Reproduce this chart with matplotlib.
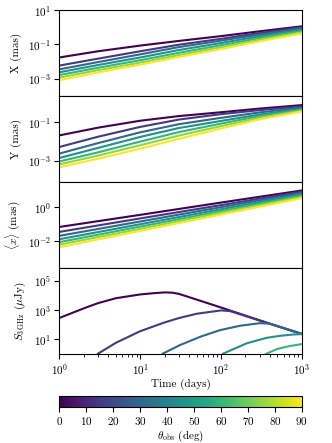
import numpy as np
import matplotlib
matplotlib.use('Agg')
from matplotlib import pyplot as plt
from matplotlib.ticker import LogLocator, NullLocator, LogFormatterSciNotation

plt.rcParams['font.family'] = 'serif'
plt.rcParams['font.serif'] = ['cmr10', 'DejaVu Serif']
plt.rcParams['mathtext.fontset'] = 'cm'
plt.rcParams['axes.formatter.use_mathtext'] = True
plt.rcParams['axes.unicode_minus'] = False
plt.rcParams['font.size'] = 8
plt.rcParams['xtick.major.pad'] = 2.5
plt.rcParams['ytick.major.pad'] = 2.5

# viewing angles (deg)
thetas = [0, 15, 30, 45, 60, 75, 90]

# times for the centroid panels (days)
t_xy = [1, 3, 10, 30, 100, 300, 1000]

# log10 X (mas)
x_log = [
    [-1.76, -1.40, -1.07, -0.80, -0.52, -0.24, 0.05],
    [-2.23, -1.83, -1.40, -1.02, -0.68, -0.34, 0.00],
    [-2.45, -2.03, -1.58, -1.16, -0.78, -0.43, -0.07],
    [-2.62, -2.20, -1.76, -1.33, -0.92, -0.53, -0.14],
    [-2.78, -2.36, -1.92, -1.49, -1.05, -0.63, -0.22],
    [-2.93, -2.50, -2.06, -1.62, -1.17, -0.73, -0.30],
    [-3.08, -2.63, -2.18, -1.73, -1.27, -0.82, -0.37],
]

# log10 Y (mas)
y_log = [
    [-1.68, -1.28, -0.92, -0.68, -0.48, -0.29, -0.11],
    [-2.28, -1.75, -1.24, -0.86, -0.58, -0.37, -0.18],
    [-2.62, -2.08, -1.52, -1.10, -0.77, -0.49, -0.24],
    [-2.85, -2.33, -1.76, -1.30, -0.93, -0.60, -0.30],
    [-3.03, -2.56, -2.00, -1.51, -1.07, -0.68, -0.35],
    [-3.18, -2.73, -2.19, -1.69, -1.20, -0.77, -0.40],
    [-3.33, -2.89, -2.37, -1.86, -1.32, -0.85, -0.44],
]

# log10 <x> (mas)
t_mean = [1, 10, 100, 1000]
xmean_log = [
    [-1.16, -0.45, 0.27, 0.98],
    [-1.45, -0.66, 0.12, 0.91],
    [-1.68, -0.84, 0.00, 0.84],
    [-1.88, -1.00, -0.12, 0.76],
    [-2.05, -1.14, -0.23, 0.68],
    [-2.20, -1.27, -0.33, 0.60],
    [-2.35, -1.39, -0.43, 0.53],
]

# 3 GHz flux density, log10 (uJy); only the curves that reach the panel
s_times = [
    [1, 2, 3, 5, 10, 15, 20, 25, 30, 40, 100, 300, 1000],
    [2.5, 3, 5, 10, 20, 30, 50, 100, 130, 300, 1000],
    [15, 19, 31, 55, 97, 171, 302, 400, 1000],
    [90, 106, 207, 366, 537, 780, 1000],
    [320, 366, 500, 700, 1000],
]
s_log = [
    [2.46, 3.12, 3.48, 3.82, 4.08, 4.17, 4.22, 4.20, 4.12, 3.90, 3.18, 2.30, 1.36],
    [-0.6, 0.0, 0.75, 1.55, 2.15, 2.45, 2.75, 2.98, 2.93, 2.28, 1.36],
    [-0.5, 0.0, 0.59, 1.16, 1.62, 1.92, 2.10, 2.07, 1.36],
    [-0.4, 0.0, 0.71, 1.09, 1.23, 1.32, 1.35],
    [-0.2, 0.0, 0.33, 0.52, 0.66],
]

cmap = plt.get_cmap('viridis')
norm = plt.Normalize(0, 90)

fig = plt.figure(figsize=(3.32, 4.43), dpi=100)
left, width, h = 0.179, 0.730, 0.1942
bottoms = [0.7833, 0.5891, 0.3950, 0.2009]
axes = [fig.add_axes([left, b, width, h]) for b in bottoms]

for i, th in enumerate(thetas):
    c = cmap(norm(th))
    axes[0].loglog(t_xy, np.power(10.0, x_log[i]), color=c, lw=1.5)
    axes[1].loglog(t_xy, np.power(10.0, y_log[i]), color=c, lw=1.5)
    axes[2].loglog(t_mean, np.power(10.0, xmean_log[i]), color=c, lw=1.5)
for i in range(len(s_times)):
    axes[3].loglog(s_times[i], np.power(10.0, s_log[i]), color=cmap(norm(thetas[i])), lw=1.5)

axes[0].set_ylim(1e-4, 10)
axes[1].set_ylim(8e-5, 2.3)
axes[2].set_ylim(2.7e-4, 30)
axes[3].set_ylim(0.95, 8e5)

yticks = [[1e-3, 1e-1, 1e1], [1e-3, 1e-1], [1e-2, 1e0], [1e1, 1e3, 1e5]]
ylabels = ['X (mas)', 'Y (mas)', r'$\langle x\rangle$ (mas)', r'$S_{\rm 3\,GHz}$ ($\mu$Jy)']
for ax, tk, lab in zip(axes, yticks, ylabels):
    ax.set_xlim(1, 1000)
    ax.set_yticks(tk)
    ax.yaxis.set_major_formatter(LogFormatterSciNotation())
    ax.yaxis.set_minor_locator(NullLocator())
    ax.set_ylabel(lab)
for ax in axes[:3]:
    ax.tick_params(axis='x', which='both', bottom=False, labelbottom=False)

axes[3].xaxis.set_major_locator(LogLocator(base=10))
axes[3].set_xlabel('Time (days)', labelpad=1.5)

cax = fig.add_axes([left, 0.0819, width, 0.0242])
sm = plt.cm.ScalarMappable(cmap=cmap, norm=norm)
cb = fig.colorbar(sm, cax=cax, orientation='horizontal', ticks=range(0, 91, 10))
cb.set_label(r'$\theta_{\rm obs}$ (deg)', labelpad=1.5)

fig.savefig('out.png', dpi=100)
